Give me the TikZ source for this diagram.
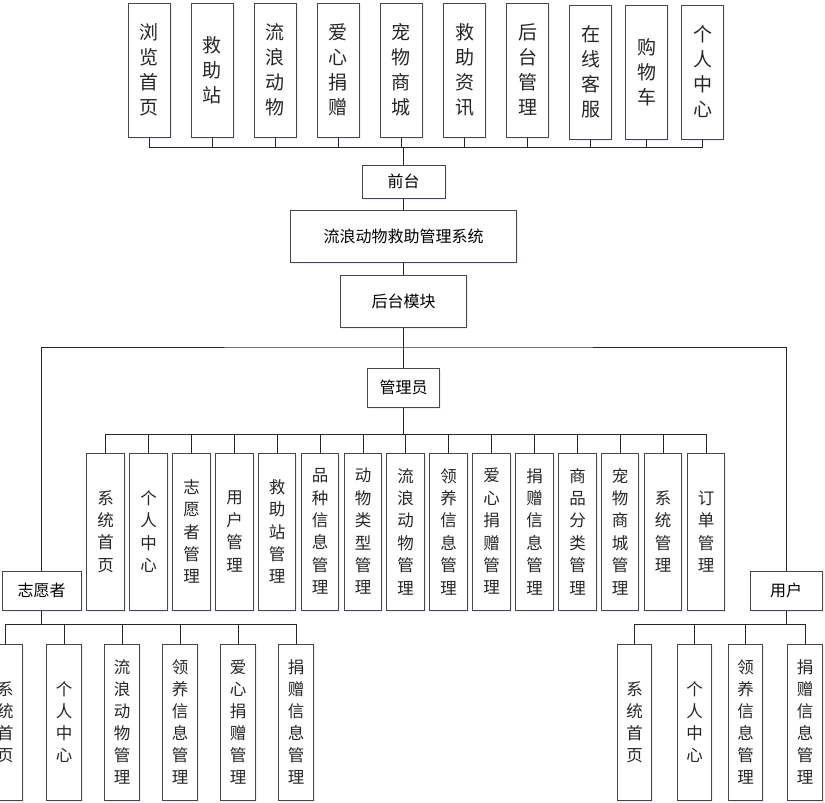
\documentclass[tikz,border=0pt]{standalone}
\usepackage{fontspec}
\newfontfamily\cjk{Noto Sans CJK SC}
\usetikzlibrary{shadows}
\begin{document}
\begin{tikzpicture}[x=1pt,y=-1pt]
\tikzset{
  boxbase/.style={draw=black!72, line width=1pt, fill=white, inner sep=0pt, align=center,
    drop shadow={shadow xshift=1.5pt, shadow yshift=-1.5pt, fill=blue!25, opacity=0.25}},
  topbox/.style={boxbase, minimum width=42pt, minimum height=134pt, text=black!85,
    font={\fontsize{19}{25}\selectfont\cjk}},
  admbox/.style={boxbase, minimum width=37.5pt, minimum height=157pt, text=black!85,
    font={\fontsize{16.5}{22.4}\selectfont\cjk}},
  subbox/.style={boxbase, minimum width=34.5pt, minimum height=156pt, text=black!85,
    font={\fontsize{16.5}{22}\selectfont\cjk}},
  hbox/.style={boxbase, font={\fontsize{16}{20}\selectfont\cjk}},
  conn/.style={draw=black!85, line width=1pt}
}
\useasboundingbox (0,0) rectangle (825,803);
\clip (0,0) rectangle (825,803);

% top row
\node[topbox] (t1) at (149,70) {浏\\览\\首\\页};
\node[topbox] (t2) at (212,70) {救\\助\\站};
\node[topbox] (t3) at (275,70) {流\\浪\\动\\物};
\node[topbox] (t4) at (338,70) {爱\\心\\捐\\赠};
\node[topbox] (t5) at (401,70) {宠\\物\\商\\城};
\node[topbox] (t6) at (464.5,70) {救\\助\\资\\讯};
\node[topbox] (t7) at (527.5,70) {后\\台\\管\\理};
\node[topbox] (t8) at (590.5,72) {在\\线\\客\\服};
\node[topbox] (t9) at (646.5,72) {购\\物\\车};
\node[topbox] (t10) at (702.5,72) {个\\人\\中\\心};
\coordinate (tbus) at (403.5,147);

% trunk
\node[hbox, minimum width=83pt, minimum height=33pt] (qt) at (403.5,181.5) {前台};
\node[hbox, minimum width=226pt, minimum height=52pt] (sys) at (403.5,236) {流浪动物救助管理系统};
\node[hbox, minimum width=126pt, minimum height=52pt] (ht) at (403.5,301) {后台模块};
\coordinate (split) at (403.5,347);
\node[hbox, minimum width=72pt, minimum height=39pt] (gly) at (403.5,387.5) {管理员};
\coordinate (abus) at (403.5,434);
\node[hbox, minimum width=79pt, minimum height=39pt] (zyz) at (41.5,590.5) {志愿者};
\node[hbox, minimum width=72pt, minimum height=39pt] (yh) at (786,590.5) {用户};
\coordinate (vbus) at (41.5,624);
\coordinate (ubus) at (786,624);

% admin children
\node[admbox] (a1) at (105.5,531.5) {系\\统\\首\\页};
\node[admbox] (a2) at (148.5,531.5) {个\\人\\中\\心};
\node[admbox] (a3) at (191.5,531.5) {志\\愿\\者\\管\\理};
\node[admbox] (a4) at (234.5,531.5) {用\\户\\管\\理};
\node[admbox] (a5) at (277,531.5) {救\\助\\站\\管\\理};
\node[admbox] (a6) at (320,531.5) {品\\种\\信\\息\\管\\理};
\node[admbox] (a7) at (363,531.5) {动\\物\\类\\型\\管\\理};
\node[admbox] (a8) at (405.5,531.5) {流\\浪\\动\\物\\管\\理};
\node[admbox] (a9) at (448.5,531.5) {领\\养\\信\\息\\管\\理};
\node[admbox] (a10) at (491.5,531.5) {爱\\心\\捐\\赠\\管\\理};
\node[admbox] (a11) at (534.5,531.5) {捐\\赠\\信\\息\\管\\理};
\node[admbox] (a12) at (577.5,531.5) {商\\品\\分\\类\\管\\理};
\node[admbox] (a13) at (620,531.5) {宠\\物\\商\\城\\管\\理};
\node[admbox] (a14) at (663,531.5) {系\\统\\管\\理};
\node[admbox] (a15) at (706,531.5) {订\\单\\管\\理};

% volunteer children
\node[subbox] (v1) at (5.5,722) {系\\统\\首\\页};
\node[subbox] (v2) at (64,722) {个\\人\\中\\心};
\node[subbox] (v3) at (122,722) {流\\浪\\动\\物\\管\\理};
\node[subbox] (v4) at (180,722) {领\\养\\信\\息\\管\\理};
\node[subbox] (v5) at (238,722) {爱\\心\\捐\\赠\\管\\理};
\node[subbox] (v6) at (296,722) {捐\\赠\\信\\息\\管\\理};

% user children
\node[subbox] (u1) at (634.5,722) {系\\统\\首\\页};
\node[subbox] (u2) at (694.5,722) {个\\人\\中\\心};
\node[subbox] (u3) at (745.5,722) {领\\养\\信\\息\\管\\理};
\node[subbox] (u4) at (805,722) {捐\\赠\\信\\息\\管\\理};

% connectors
\foreach \i in {1,...,10} \draw[conn] (t\i.south) -- (t\i.south |- tbus);
\draw[conn] (t1.south |- tbus) -- (t10.south |- tbus);
\draw[conn] (qt.north) -- (tbus);
\draw[conn] (qt.south) -- (sys.north);
\draw[conn] (sys.south) -- (ht.north);
\draw[conn] (ht.south) -- (gly.north);
\draw[conn] (zyz.north) |- (split) -| (yh.north);
\draw[conn] (gly.south) -- (abus);
\foreach \i in {1,...,15} \draw[conn] (a\i.north) -- (a\i.north |- abus);
\draw[conn] (a1.north |- abus) -- (a15.north |- abus);
\draw[conn] (zyz.south) -- (vbus);
\foreach \i in {1,...,6} \draw[conn] (v\i.north) -- (v\i.north |- vbus);
\draw[conn] (v1.north |- vbus) -- (v6.north |- vbus);
\draw[conn] (yh.south) -- (ubus);
\foreach \i in {1,...,4} \draw[conn] (u\i.north) -- (u\i.north |- ubus);
\draw[conn] (u1.north |- ubus) -- (u4.north |- ubus);
\end{tikzpicture}
\end{document}
